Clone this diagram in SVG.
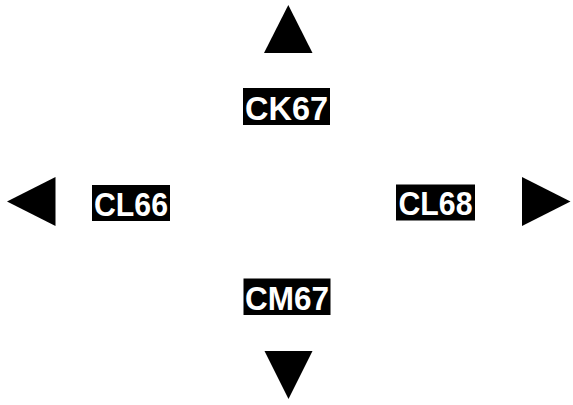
<svg xmlns="http://www.w3.org/2000/svg" width="573" height="405" viewBox="0 0 573 405">
<style>
.arrow{fill:#000}
.box{fill:#000}
.lbl{fill:#fff;font-family:"Liberation Sans",Arial,sans-serif;font-weight:bold;font-size:33px;text-anchor:middle}
</style>
<rect width="573" height="405" fill="#fff"/>
<g id="connectors">
<polygon class="arrow" points="264,53 312.5,53 288.3,5"/>
<polygon class="arrow" points="264.5,351 312.5,351 288.5,399"/>
<polygon class="arrow" points="55.5,177 55.5,226 7,201.5"/>
<polygon class="arrow" points="522,177 522,226 570.5,201.5"/>
</g>
<g id="CK67">
<rect class="box" x="243" y="88" width="87" height="37"/>
<text class="lbl" x="286.5" y="119.5" textLength="83" lengthAdjust="spacingAndGlyphs">CK67</text>
</g>
<g id="CL66">
<rect class="box" x="92" y="185" width="78" height="36"/>
<text class="lbl" x="131" y="215.5" textLength="74" lengthAdjust="spacingAndGlyphs">CL66</text>
</g>
<g id="CL68">
<rect class="box" x="396" y="184.5" width="79" height="36"/>
<text class="lbl" x="435.5" y="215" textLength="74" lengthAdjust="spacingAndGlyphs">CL68</text>
</g>
<g id="CM67">
<rect class="box" x="243.5" y="278.5" width="87" height="36.5"/>
<text class="lbl" x="287" y="309.5" textLength="84" lengthAdjust="spacingAndGlyphs">CM67</text>
</g>
</svg>
